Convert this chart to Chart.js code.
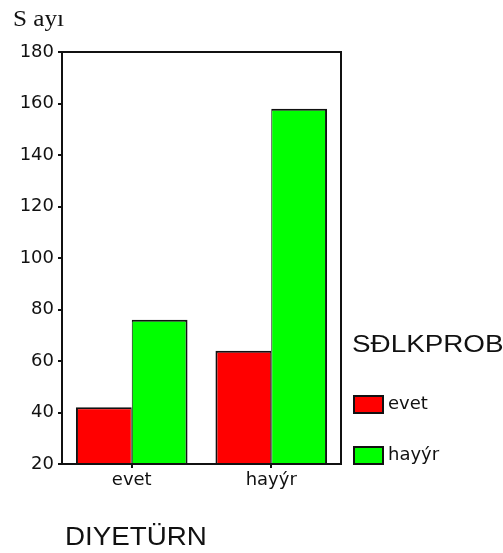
<!DOCTYPE html>
<html>
<head>
<meta charset="utf-8">
<script src="https://cdn.jsdelivr.net/npm/chart.js@4"></script>
<style>
  html, body { margin: 0; padding: 0; background: #fff; }
  #wrap { position: relative; width: 503px; height: 553px; overflow: hidden; }
  #chart { position: absolute; left: 0; top: 0; }
  .txt { position: absolute; color: #111; white-space: nowrap; transform-origin: 0 0; }
  #ytitle { left: 13px; top: 5px; font: 24px "Liberation Serif", serif; transform: scaleX(1.05); }
  #xtitle { left: 65px; top: 522px; font: 25px "Liberation Sans", Arial, sans-serif; transform: scaleX(1.11); }
  #legtitle { left: 352px; top: 331px; font: 23px "Liberation Sans", Arial, sans-serif; transform: scaleX(1.21); }
  .legitem { position: absolute; left: 353px; height: 19px; }
  .legitem .box { position: absolute; left: 0; top: 0; width: 27px; height: 15px; border: 2px solid #111; }
  .legitem .lbl { position: absolute; left: 35px; top: -3px; font: 18px "DejaVu Sans", sans-serif; color: #111; }
</style>
</head>
<body>
<div id="wrap">
  <canvas id="chart" width="503" height="553"></canvas>
  <div class="txt" id="ytitle">S ayı</div>
  <div class="txt" id="xtitle">DIYETÜRN</div>
  <div class="txt" id="legtitle">SÐLKPROB</div>
  <div id="legend"></div>
</div>
<script>
// categories on the x axis (DIYETÜRN)
const categories = ['evet', 'hayýr'];
// groups (SÐLKPROB)
const seriesNames = ['evet', 'hayýr'];
const evetCounts = [42, 64];
const hayirCounts = [76, 158];
const seriesColors = ['#ff0000', '#00ff00'];
// y axis range
const yMin = 20;
const yMax = 180;
const yStep = 20;

const tickFont = { family: '"DejaVu Sans", sans-serif', size: 18 };

// frame round the plot area (top and right sides)
const frame = {
  id: 'frame',
  afterDraw(chart) {
    const { ctx, chartArea: a } = chart;
    ctx.save();
    ctx.strokeStyle = '#111';
    ctx.lineWidth = 2;
    ctx.strokeRect(a.left, a.top, a.right - a.left, a.bottom - a.top);
    ctx.restore();
  }
};

const chart = new Chart(document.getElementById('chart'), {
  type: 'bar',
  data: {
    labels: categories,
    datasets: [
      { label: seriesNames[0], data: evetCounts, backgroundColor: seriesColors[0],
        borderWidth: { left: 2, top: 2, right: 1, bottom: 2 } },
      { label: seriesNames[1], data: hayirCounts, backgroundColor: seriesColors[1],
        borderWidth: { left: 1, top: 2, right: 2, bottom: 2 } }
    ]
  },
  options: {
    responsive: false,
    animation: false,
    layout: { padding: { left: 0, top: 52, right: 162, bottom: 59 } },
    datasets: {
      bar: {
        borderColor: '#111',
        borderSkipped: false,
        categoryPercentage: 0.8,
        barPercentage: 1
      }
    },
    plugins: {
      legend: { display: false },
      tooltip: { enabled: false }
    },
    scales: {
      x: {
        grid: { offset: false, drawOnChartArea: false, drawTicks: true, tickLength: 4, color: '#111', lineWidth: 2 },
        border: { color: '#111', width: 2 },
        ticks: { color: '#111', font: tickFont, padding: 2, maxRotation: 0 },
        afterFit(scale) { scale.height = 30; }
      },
      y: {
        min: yMin,
        max: yMax,
        grid: { drawOnChartArea: false, drawTicks: true, tickLength: 4, color: '#111', lineWidth: 2 },
        border: { color: '#111', width: 2 },
        ticks: { stepSize: yStep, color: '#111', font: tickFont, padding: 4 },
        afterFit(scale) { scale.width = 62; }
      }
    }
  },
  plugins: [frame]
});

// legend built from the datasets
const legend = document.getElementById('legend');
chart.data.datasets.forEach((ds, i) => {
  const item = document.createElement('div');
  item.className = 'legitem';
  item.style.top = (395 + i * 51) + 'px';
  item.innerHTML = '<div class="box" style="background:' + ds.backgroundColor + '"></div><div class="lbl">' + ds.label + '</div>';
  legend.appendChild(item);
});
</script>
</body>
</html>
